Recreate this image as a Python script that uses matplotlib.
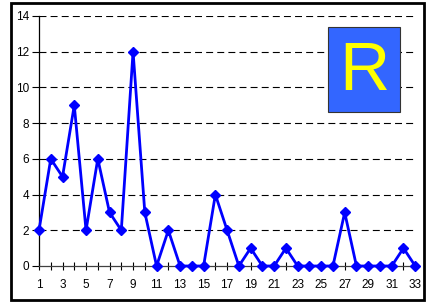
import matplotlib.pyplot as plt
from matplotlib.patches import Rectangle

plt.rcParams['font.family'] = ['Liberation Sans', 'DejaVu Sans']
plt.rcParams['lines.scale_dashes'] = False

x = list(range(1, 34))
values = [2, 6, 5, 9, 2, 6, 3, 2, 12, 3, 0, 2, 0, 0, 0, 4, 2, 0, 1, 0, 0, 1,
          0, 0, 0, 0, 3, 0, 0, 0, 0, 1, 0]
xtick_labels = [str(i) for i in range(1, 34, 2)]
yticks = list(range(0, 15, 2))
series_name = 'R'

fig = plt.figure(figsize=(4.3, 3.04), dpi=100)
ax = fig.add_axes([39 / 430, 1 - 266 / 304, (417 - 39) / 430, (266 - 16) / 304])

ax.plot(x, values, color='#0000ff', linewidth=2, marker='D', markersize=5.5,
        clip_on=False, zorder=3)

ax.set_xlim(1, 33.15)
ax.set_ylim(0, 14)
ax.set_yticks(yticks)
ax.set_xticks(x)
ax.set_xticklabels([str(i) if i % 2 == 1 else '' for i in x])
ax.tick_params(axis='x', direction='inout', length=6, width=0.8, labelsize=8.5, pad=6)
ax.tick_params(axis='y', direction='out', length=5, width=0.8, labelsize=8.5, pad=2)

for t in yticks[1:]:
    ax.axhline(t, color='black', linewidth=0.8, linestyle=(0, (5, 3)), zorder=1)

for s in ['top', 'right']:
    ax.spines[s].set_visible(False)
ax.spines['bottom'].set_color('#404040')
ax.spines['left'].set_color('black')
ax.spines['bottom'].set_linewidth(0.9)
ax.spines['left'].set_linewidth(0.9)

# legend-like box with the series name
box = Rectangle((328 / 430, 1 - 112 / 304), 72 / 430, 85 / 304, transform=fig.transFigure,
                facecolor='#3366ff', edgecolor='#333333', linewidth=0.8, zorder=5)
fig.patches.append(box)
fig.text(364 / 430, 1 - 72 / 304, series_name, color='#ffff00', fontsize=50,
         ha='center', va='center', zorder=6)

# outer frame
frame = Rectangle((11 / 430, 1 - 300 / 304), 413 / 430, 297 / 304, transform=fig.transFigure,
                  facecolor='none', edgecolor='black', linewidth=2)
fig.patches.append(frame)

fig.savefig('out.png', dpi=100)
